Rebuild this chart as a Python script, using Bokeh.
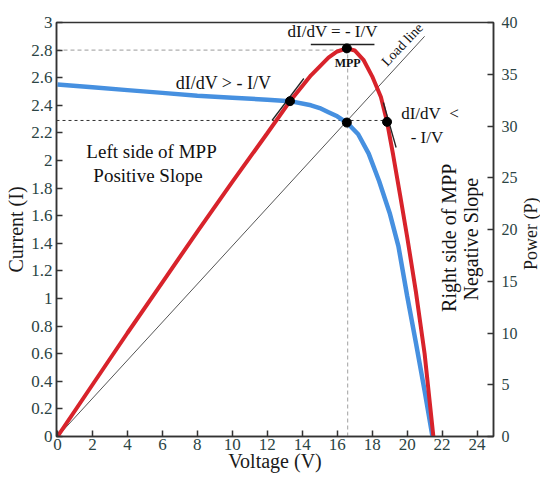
from bokeh.plotting import figure
from bokeh.models import (Range1d, LinearAxis, FixedTicker, Label,
                          CustomJSTickFormatter)
from bokeh.layouts import row
from bokeh.core.properties import value
from bokeh.embed import file_html
from bokeh.resources import INLINE
import math

# ---------------- data ----------------
# I-V curve (blue), current in A
iv_voltage = [0, 2, 4, 6, 8, 10, 12, 13.3, 14.5, 15.0, 15.5, 16.0, 16.55,
              17.2, 17.8, 18.4, 19.0, 19.5, 20.0, 20.5, 21.0, 21.45]
iv_current = [2.55, 2.53, 2.51, 2.49, 2.47, 2.455, 2.44, 2.43, 2.40, 2.38,
              2.35, 2.32, 2.275, 2.19, 2.05, 1.85, 1.62, 1.38, 1.02, 0.68,
              0.33, 0.0]

# P-V curve (red), power in W
pv_voltage = [0, 2, 4, 6, 8, 10, 12, 13.3, 14.5, 15.5, 16.0, 16.55, 17.0,
              17.5, 18.0, 18.5, 18.85, 19.2, 19.6, 20.0, 20.5, 21.0, 21.5]
pv_power = [0, 5.0, 10.0, 14.9, 19.8, 24.6, 29.3, 32.4, 34.9, 36.6, 37.2,
            37.5, 37.3, 36.4, 34.8, 32.8, 30.4, 27.2, 23.3, 19.3, 14.0, 8.0, 0]

# load line (current axis)
load_voltage = [0, 21.0]
load_current = [0, 2.9]

# marked points
pv_dot_voltage = [16.55, 13.3, 18.85]
pv_dot_power = [37.5, 32.4, 30.4]
iv_dot_voltage = [16.55]
iv_dot_current = [2.275]

# reference (dashed) levels
mpp_current_level = 2.8
mpp_voltage = 16.6
op_current_level = 2.29
op_voltage_end = 18.85

# tangent segments
tan_left_v = [12.27, 14.09]
tan_left_p = [30.53, 34.59]
tan_right_v = [18.64, 19.37]
tan_right_p = [32.27, 27.92]
tan_top_v = [14.49, 18.13]
tan_top_i = [2.84, 2.84]

# ticks
x_ticks = [0, 2, 4, 6, 8, 10, 12, 14, 16, 18, 20, 22, 24]
i_ticks = [0, 0.2, 0.4, 0.6, 0.8, 1.0, 1.2, 1.4, 1.6, 1.8, 2.0, 2.2, 2.4,
           2.6, 2.8, 3.0]
p_ticks = [0, 5, 10, 15, 20, 25, 30, 35, 40]

# ---------------- styling ----------------
FONT = "Liberation Serif"
TICK_COLOR = "#2b4444"
AXIS_COLOR = "#333333"
TITLE_COLOR = "#1a1a1a"
BLUE = "#4690e0"
RED = "#d8232b"

p = figure(width=520, height=477, output_backend="svg", toolbar_location=None,
           x_range=Range1d(-0.057, 24.94), y_range=Range1d(0, 3.0))
p.min_border_left = 56
p.min_border_right = 24
p.min_border_top = 22
p.min_border_bottom = 41
p.extra_y_ranges = {"P": Range1d(0, 40)}
p.xgrid.visible = False
p.ygrid.visible = False
p.outline_line_color = AXIS_COLOR
p.outline_line_width = 1.5
p.background_fill_color = "white"
p.border_fill_color = "white"


def style_axis(ax, standoff, label, label_standoff, tick_size="17px"):
    ax.axis_line_color = AXIS_COLOR
    ax.axis_line_width = 1.5
    ax.major_tick_in = 6
    ax.major_tick_out = 0
    ax.minor_tick_line_color = None
    ax.major_tick_line_color = AXIS_COLOR
    ax.major_tick_line_width = 1.5
    ax.major_label_text_font = FONT
    ax.major_label_text_font_size = tick_size
    ax.major_label_text_color = TICK_COLOR
    ax.major_label_standoff = standoff
    if label:
        ax.axis_label = label
        ax.axis_label_text_font = FONT
        ax.axis_label_text_font_size = "20px"
        ax.axis_label_text_font_style = "normal"
        ax.axis_label_text_color = TITLE_COLOR
        ax.axis_label_standoff = label_standoff


xa = p.xaxis[0]
xa.ticker = FixedTicker(ticks=x_ticks)
style_axis(xa, 2, "Voltage (V)", -3)

ya = p.yaxis[0]
ya.ticker = FixedTicker(ticks=i_ticks)
ya.formatter = CustomJSTickFormatter(code="return (Math.round(tick*10)/10).toString();")
style_axis(ya, 4, "Current (I)", 1)

ra = LinearAxis(y_range_name="P", ticker=FixedTicker(ticks=p_ticks))
style_axis(ra, 8, None, 0, tick_size="16px")
p.add_layout(ra, "right")

# dashed reference lines
p.line([-0.057, mpp_voltage - 0.05], [mpp_current_level] * 2,
       line_color="#9a9a9a", line_dash="4 3", line_width=1)
p.line([mpp_voltage, mpp_voltage], [0, mpp_current_level],
       line_color="#a0a0a0", line_dash="4 3", line_width=1)
p.line([-0.057, op_voltage_end], [op_current_level] * 2,
       line_color="#333333", line_dash="3 3", line_width=1)

# load line
p.line(load_voltage, load_current, line_color="#555555", line_width=1)

# curves
p.line(iv_voltage, iv_current, line_color=BLUE, line_width=4.5)
p.line(pv_voltage, pv_power, line_color=RED, line_width=4, y_range_name="P")

# tangents
p.line(tan_left_v, tan_left_p, line_color="#222222", line_width=1.3, y_range_name="P")
p.line(tan_right_v, tan_right_p, line_color="#222222", line_width=1.3, y_range_name="P")
p.line(tan_top_v, tan_top_i, line_color="#222222", line_width=1.5)

# dots
p.scatter(pv_dot_voltage, pv_dot_power, size=9, color="black", y_range_name="P")
p.scatter(iv_dot_voltage, iv_dot_current, size=9, color="black")


def add_text(x, y, text, size, align="left", baseline="middle", angle=0.0,
             style="normal", color="#111111"):
    p.add_layout(Label(x=x, y=y, text=text, text_font=FONT,
                       text_font_size=size, text_align=align,
                       text_baseline=baseline, angle=angle,
                       text_font_style=style, text_color=color))


add_text(15.74, 2.935, "dI/dV = - I/V", "17px", align="center")
add_text(16.6, 2.71, "MPP", "12px", align="center", style="bold")
add_text(6.76, 2.565, "dI/dV > - I/V", "18px")
add_text(19.66, 2.34, "dI/dV\u00a0\u00a0<", "17px")
add_text(20.2, 2.17, "- I/V", "17px")
add_text(1.65, 2.065, "Left side of MPP", "19px")
add_text(2.05, 1.89, "Positive Slope", "19px")
add_text(22.39, 1.44, "Right side of MPP", "20px", align="center", angle=math.pi / 2)
add_text(23.64, 1.43, "Negative Slope", "20px", align="center", angle=math.pi / 2)
add_text(19.72, 2.84, "Load line", "14px", align="center", angle=0.81)

# narrow strip on the right carrying the right-axis title (bottom-to-top)
t = figure(width=20, height=477, output_backend="svg", toolbar_location=None,
           x_range=Range1d(0, 20), y_range=Range1d(0, 40),
           x_axis_type=None, y_axis_type=None)
t.min_border_left = 0
t.min_border_right = 0
t.min_border_top = 22
t.min_border_bottom = 41
t.outline_line_color = None
t.xgrid.visible = False
t.ygrid.visible = False
t.background_fill_color = "white"
t.border_fill_color = "white"
t.text(x=[10], y=[19.6], text=["Power (P)"], angle=math.pi / 2,
       text_font=value(FONT), text_font_size="18px", text_color=TITLE_COLOR,
       text_align="center", text_baseline="middle")

layout = row(p, t)
open("out.html", "w").write(file_html(layout, INLINE))
